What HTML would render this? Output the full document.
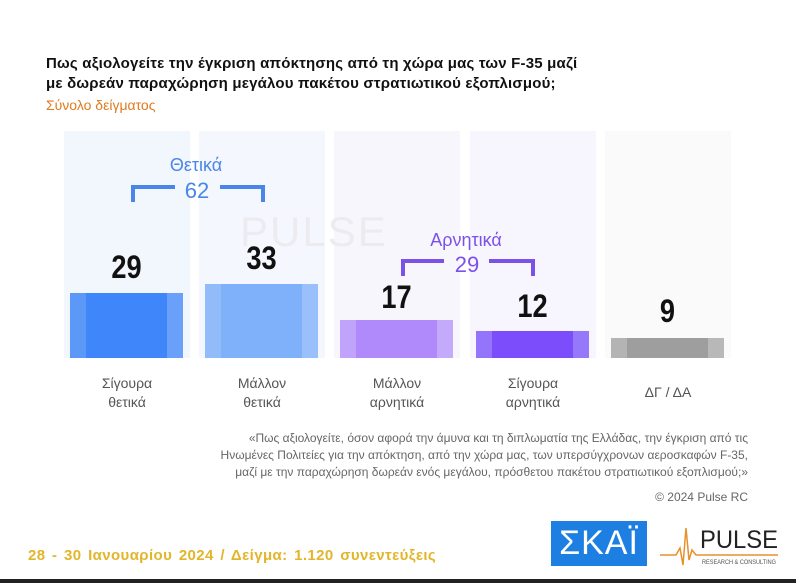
<!DOCTYPE html>
<html><head><meta charset="utf-8"><style>
*{margin:0;padding:0;box-sizing:border-box}
body{width:796px;height:583px;background:#fff;position:relative;overflow:hidden;font-family:"Liberation Sans","DejaVu Sans",sans-serif}
.a{position:absolute}
.col{position:absolute;top:131px;height:227px;width:126px}
.v{position:absolute;width:113px;text-align:center;font-family:"Liberation Sans Narrow","Liberation Sans",sans-serif;font-weight:bold;font-size:32px;color:#111;transform:scaleX(0.85)}
.lab{position:absolute;width:130px;text-align:center;font-size:14px;color:#555;line-height:19px;top:374px}
</style></head><body>
<div class="a" style="left:46px;top:54px;font-size:15px;font-weight:bold;color:#111;line-height:20px;letter-spacing:0.2px">Πως αξιολογείτε την έγκριση απόκτησης από τη χώρα μας των F-35 μαζί<br>με δωρεάν παραχώρηση μεγάλου πακέτου στρατιωτικού εξοπλισμού;</div>
<div class="a" style="left:46px;top:97px;font-size:14px;color:#e07a1f">Σύνολο δείγματος</div>

<div class="col" style="left:64px;background:#f2f6fd"></div>
<div class="col" style="left:199px;background:#f4f8fe"></div>
<div class="col" style="left:334px;background:#f8f6fd"></div>
<div class="col" style="left:470px;background:#f7f5fd"></div>
<div class="col" style="left:605px;background:#fafafb"></div>

<div class="a" style="left:240px;top:208px;font-size:42px;color:#ececf0;letter-spacing:2px">PULSE</div>

<div class="a" style="left:70px;top:293px;width:113px;height:65px;background:linear-gradient(90deg,#5c98f8 0 14%,#3f86fa 14% 86%,#6aa0f9 86%)"></div>
<div class="a" style="left:205px;top:284px;width:113px;height:74px;background:linear-gradient(90deg,#92bbfa 0 14%,#7fb0fa 14% 86%,#9ac0fb 86%)"></div>
<div class="a" style="left:340px;top:320px;width:113px;height:38px;background:linear-gradient(90deg,#c0a3fb 0 14%,#b089fa 14% 86%,#c4aafb 86%)"></div>
<div class="a" style="left:476px;top:331px;width:113px;height:27px;background:linear-gradient(90deg,#9474fb 0 14%,#7b4dfb 14% 86%,#9678fb 86%)"></div>
<div class="a" style="left:611px;top:338px;width:113px;height:20px;background:linear-gradient(90deg,#b4b4b4 0 14%,#9e9e9e 14% 86%,#b8b8b8 86%)"></div>

<div class="v" style="left:70px;top:249px">29</div>
<div class="v" style="left:205px;top:240px">33</div>
<div class="v" style="left:340px;top:279px">17</div>
<div class="v" style="left:476px;top:288px">12</div>
<div class="v" style="left:611px;top:293px">9</div>

<div class="lab" style="left:62px">Σίγουρα<br>θετικά</div>
<div class="lab" style="left:197px">Μάλλον<br>θετικά</div>
<div class="lab" style="left:332px">Μάλλον<br>αρνητικά</div>
<div class="lab" style="left:468px">Σίγουρα<br>αρνητικά</div>
<div class="lab" style="left:603px;top:383px">ΔΓ / ΔΑ</div>

<svg class="a" style="left:0;top:0" width="796" height="583">
<g stroke="#4a86e8" stroke-width="4" fill="none">
<path d="M133,202 V187 H175 M220,187 H263 V202"/>
</g>
<g stroke="#7b52e8" stroke-width="4" fill="none">
<path d="M403,276 V261 H444 M489,261 H533 V276"/>
</g>
<text x="196" y="171" text-anchor="middle" font-size="18" fill="#4a86e8" font-family="Liberation Sans, DejaVu Sans, sans-serif">Θετικά</text>
<text x="197" y="198" text-anchor="middle" font-size="22" fill="#4a86e8" font-family="Liberation Sans, sans-serif">62</text>
<text x="466" y="246" text-anchor="middle" font-size="18" fill="#7b52e8" font-family="Liberation Sans, DejaVu Sans, sans-serif">Αρνητικά</text>
<text x="467" y="272" text-anchor="middle" font-size="22" fill="#7b52e8" font-family="Liberation Sans, sans-serif">29</text>
</svg>

<div class="a" style="right:48px;top:430px;width:620px;text-align:right;font-size:12px;color:#666;line-height:17px">«Πως αξιολογείτε, όσον αφορά την άμυνα και τη διπλωματία της Ελλάδας, την έγκριση από τις<br>Ηνωμένες Πολιτείες για την απόκτηση, από την χώρα μας, των υπερσύγχρονων αεροσκαφών F-35,<br>μαζί με την παραχώρηση δωρεάν ενός μεγάλου, πρόσθετου πακέτου στρατιωτικού εξοπλισμού;»</div>
<div class="a" style="right:48px;top:490px;font-size:12px;color:#666">© 2024 Pulse RC</div>

<div class="a" style="left:28px;top:547px;font-size:15px;font-weight:bold;color:#e2b52a;letter-spacing:0.4px;word-spacing:2px">28 - 30 Ιανουαρίου 2024 / Δείγμα: 1.120 συνεντεύξεις</div>
<div class="a" style="left:551px;top:521px;width:96px;height:45px;background:#1d7fe2;color:#fff;font-size:34px;text-align:center;line-height:45px;letter-spacing:1px">ΣΚΑΪ</div>
<svg class="a" style="left:658px;top:520px" width="125" height="50">
<path d="M2,35 H18 L22,28 L25,45 L28,8 L31,40 L34,30 L38,35 H120" stroke="#e8902a" stroke-width="1.5" fill="none"/>
<text x="42" y="28" font-size="25" fill="#222" font-family="Liberation Sans, sans-serif" textLength="78" lengthAdjust="spacingAndGlyphs">PULSE</text>
<text x="44" y="44" font-size="6" fill="#555" font-family="Liberation Sans, sans-serif" textLength="74" lengthAdjust="spacingAndGlyphs">RESEARCH &amp; CONSULTING</text>
</svg>
<div class="a" style="left:0;top:579px;width:796px;height:4px;background:#222"></div>
</body></html>
